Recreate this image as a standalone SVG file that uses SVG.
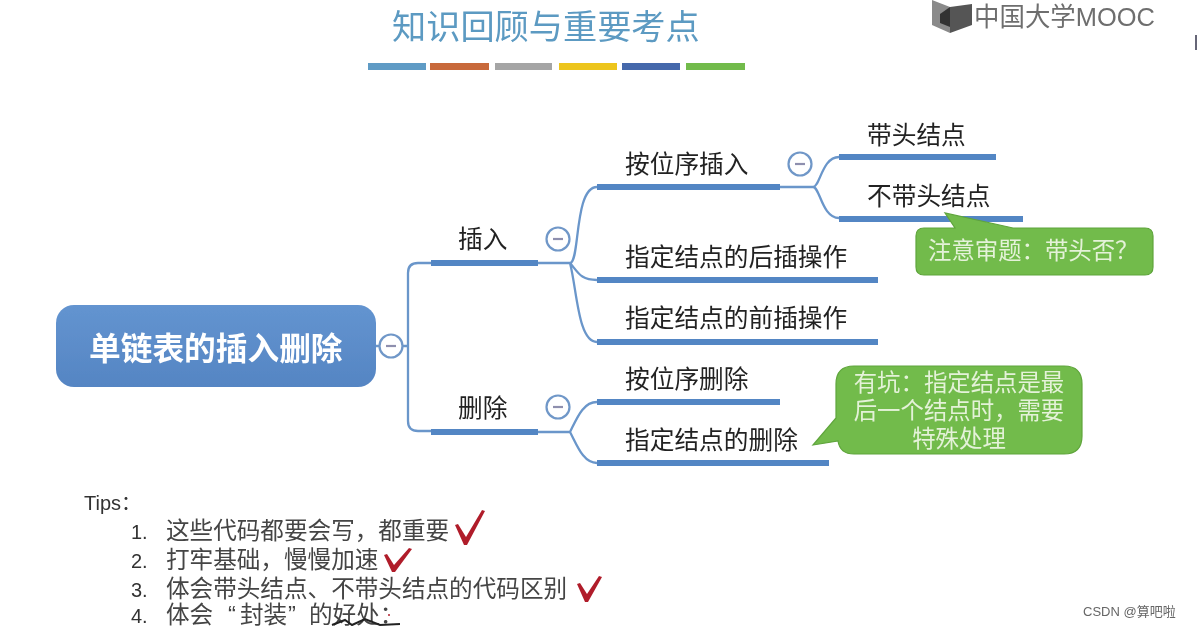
<svg xmlns="http://www.w3.org/2000/svg" width="1198" height="626" viewBox="0 0 1198 626">
<defs><filter id="soft" x="-2%" y="-2%" width="104%" height="104%"><feGaussianBlur stdDeviation="0.45"/></filter>
<linearGradient id="rootfill" x1="0" y1="0" x2="0" y2="1"><stop offset="0" stop-color="#6394d0"/><stop offset="1" stop-color="#5585c3"/></linearGradient></defs>
<style>
text{font-family:"Liberation Sans","Noto Sans CJK SC",sans-serif}
.lbl{font-size:24.7px;fill:#222}
.bar{fill:#5286c4}
.thin{fill:none;stroke:#6a96ca;stroke-width:2.3}
.col{fill:#fff;stroke:#6f97c8;stroke-width:2.2}
.dash{stroke:#8e8fae;stroke-width:2.2}
.note{fill:#72bb4b;stroke:#5fa53c;stroke-width:1.2}
.nt{font-size:23.4px;fill:#e4f2d8}
.tip{font-size:23.6px;fill:#444}
.num{font-size:20px;fill:#333}
.chk{fill:#b01f2c}
</style>
<rect width="1198" height="626" fill="#fff"/>
<g filter="url(#soft)">
<g id="header">
<text x="392" y="39" font-size="34.2" fill="#5c9ac2">知识回顾与重要考点</text>
<rect x="368" y="63" width="58" height="7" fill="#5f9bc5"/>
<rect x="430" y="63" width="59" height="7" fill="#c8693a"/>
<rect x="495" y="63" width="57" height="7" fill="#a5a5a5"/>
<rect x="559" y="63" width="58" height="7" fill="#edc51f"/>
<rect x="622" y="63" width="58" height="7" fill="#4467ab"/>
<rect x="686" y="63" width="59" height="7" fill="#72bb4b"/>
</g>
<g id="logo">
<path d="M932 0 L950 7 V33 L932 25 Z" fill="#8a8a8a"/>
<path d="M950 7 L972 4 V25 L950 33 Z" fill="#555"/>
<path d="M940 14 L950 7 V27 L940 23 Z" fill="#333"/>
<text x="974" y="26" font-size="26" fill="#6e6e6e" textLength="181" lengthAdjust="spacingAndGlyphs">中国大学MOOC</text>
</g>
<g id="connectors">
<path class="thin" d="M376 346H408M431 263H418Q408 263 408 273V421Q408 431 418 431H431"/>
<path class="thin" d="M538 263H570C580 263 574 187 597 187M570 263C578 272 580 280 597 280M570 263C577 290 578 342 597 342"/>
<path class="thin" d="M538 432H570C577 418 583 402 597 402M570 432C577 445 583 463 597 463"/>
<path class="thin" d="M780 187H813C820 187 822 157 839 157M813 187C820 187 822 218 839 218"/>
</g>
<g id="root">
<rect x="56" y="305" width="320" height="82" rx="18" fill="url(#rootfill)"/>
<text x="89" y="360" font-size="31.7" font-weight="bold" fill="#fff">单链表的插入删除</text>
<circle class="col" cx="391" cy="346" r="11.5"/><line class="dash" x1="386" y1="346" x2="396" y2="346"/>
</g>
<g id="insert">
<rect class="bar" x="431" y="260" width="107" height="6"/>
<text class="lbl" x="458" y="248">插入</text>
<circle class="col" cx="558" cy="239" r="11.5"/><line class="dash" x1="553" y1="239" x2="563" y2="239"/>
</g>
<g id="delete">
<rect class="bar" x="431" y="429" width="107" height="6"/>
<text class="lbl" x="458" y="417">删除</text>
<circle class="col" cx="558" cy="407" r="11.5"/><line class="dash" x1="553" y1="407" x2="563" y2="407"/>
</g>
<g id="insert-pos">
<rect class="bar" x="597" y="184" width="183" height="6"/>
<text class="lbl" x="625" y="173">按位序插入</text>
<circle class="col" cx="800" cy="164" r="11.5"/><line class="dash" x1="795" y1="164" x2="805" y2="164"/>
</g>
<g id="head"><rect class="bar" x="839" y="154" width="157" height="6"/><text class="lbl" x="867" y="144">带头结点</text></g>
<g id="nohead"><rect class="bar" x="839" y="216" width="184" height="6"/><text class="lbl" x="867" y="205">不带头结点</text></g>
<g id="after"><rect class="bar" x="597" y="277" width="281" height="6"/><text class="lbl" x="625" y="266">指定结点的后插操作</text></g>
<g id="before"><rect class="bar" x="597" y="339" width="281" height="6"/><text class="lbl" x="625" y="327">指定结点的前插操作</text></g>
<g id="del-pos"><rect class="bar" x="597" y="399" width="183" height="6"/><text class="lbl" x="625" y="388">按位序删除</text></g>
<g id="del-node"><rect class="bar" x="597" y="460" width="232" height="6"/><text class="lbl" x="625" y="449">指定结点的删除</text></g>
<g id="note1">
<path class="note" d="M924 228H955L945 213L1013 228H1145Q1153 228 1153 236V267Q1153 275 1145 275H924Q916 275 916 267V236Q916 228 924 228Z"/>
<text class="nt" x="928" y="259">注意审题&#xFF1A;带头否&#xFF1F;</text>
</g>
<g id="note2">
<path class="note" d="M854 366H1064Q1082 366 1082 384V436Q1082 454 1064 454H854Q840 454 838 441L813 445L836 418V384Q836 366 854 366Z"/>
<text class="nt" x="959" y="391" text-anchor="middle">有坑&#xFF1A;指定结点是最</text>
<text class="nt" x="959" y="419" text-anchor="middle">后一个结点时&#xFF0C;需要</text>
<text class="nt" x="959" y="447" text-anchor="middle">特殊处理</text>
</g>
<g id="tips">
<text x="84" y="510" font-size="20" fill="#333">Tips&#xFF1A;</text>
<text class="num" x="131" y="539">1.</text><text class="tip" x="166" y="539">这些代码都要会写&#xFF0C;都重要</text>
<text class="num" x="131" y="568">2.</text><text class="tip" x="166" y="568">打牢基础&#xFF0C;慢慢加速</text>
<text class="num" x="131" y="597">3.</text><text class="tip" x="166" y="597">体会带头结点、不带头结点的代码区别</text>
<text class="num" x="131" y="623">4.</text><text class="tip" x="166" y="623">体会<tspan x="228">&#x201C;</tspan><tspan x="240">封装</tspan><tspan x="288">&#x201D;</tspan><tspan x="309">的好处&#xFF1A;</tspan></text>
<path class="chk" d="M455 525L458 524L466 537L482 510L485 511L467 545L464 545Z"/>
<path class="chk" d="M384 555L387 554L394 565L409 548L412 549L395 572L392 572Z"/>
<path class="chk" d="M577 584L580 583L587 594L599 576L602 577L588 602L585 602Z"/>
<path d="M332 625L345 620L352 625L365 619L380 625L400 624" fill="none" stroke="#222" stroke-width="2"/>
<circle cx="389" cy="615" r="1" fill="#b3202c"/>
</g>
<text x="1083" y="616" font-size="13" fill="#666">CSDN @算吧啦</text>
<rect x="1195" y="35" width="2" height="15" fill="#667"/>
</g>
</svg>
